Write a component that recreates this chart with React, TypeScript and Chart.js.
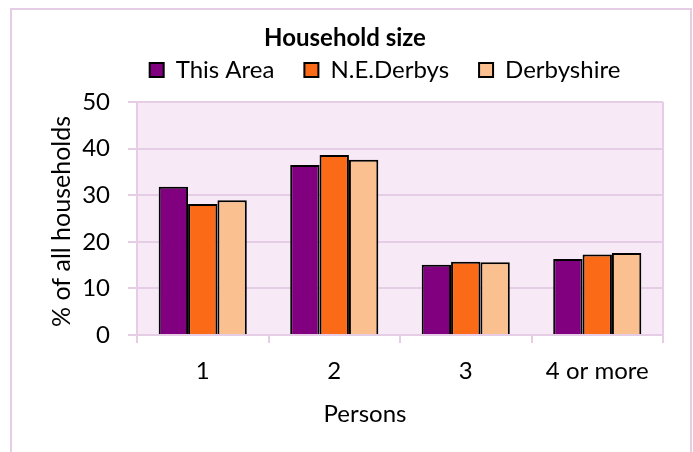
import { useEffect, useRef } from "react";
import { Chart, registerables } from "chart.js";

Chart.register(...registerables);

const categories = ["1", "2", "3", "4 or more"];
const thisArea = [31.8, 36.5, 15.1, 16.3];
const neDerbys = [28.1, 38.6, 15.7, 17.3];
const derbyshire = [28.9, 37.6, 15.6, 17.6];
const seriesNames = ["This Area", "N.E.Derbys", "Derbyshire"];
const seriesColors = ["#800080", "#fb6a17", "#fac090"];
const chartTitle = "Household size";
const xTitle = "Persons";
const yTitle = "% of all households";

const FONT = "Lato, 'Open Sans', sans-serif";
const PINK = "#e6cde6";
const PLOT_BG = "#f7eaf6";
const LEGEND_HEIGHT = 74;
const LEGEND_SHIFT = 40;
const X_TITLE_SHIFT = -35;
const Y_TITLE_SHIFT = 3;

const decorPlugin = {
  id: "decor",
  beforeInit(chart: any) {
    const legend = chart.legend;
    if (legend) {
      const orig = legend.fit;
      legend.fit = function () {
        orig.call(this);
        this.height = LEGEND_HEIGHT;
        if (this.lineWidths && this.lineWidths.length) {
          this.lineWidths[0] -= LEGEND_SHIFT * 2;
        }
      };
    }
  },
  afterLayout(chart: any) {
    const patch = (scale: any, dx: number, dy: number) => {
      if (!scale || scale._titlePatched) return;
      const orig = scale.drawTitle;
      scale.drawTitle = function () {
        this.ctx.save();
        this.ctx.translate(dx, dy);
        orig.call(this);
        this.ctx.restore();
      };
      scale._titlePatched = true;
    };
    patch(chart.scales.x, X_TITLE_SHIFT, 0);
    patch(chart.scales.y, 0, Y_TITLE_SHIFT);
  },
  beforeDraw(chart: any) {
    const { ctx, chartArea: a } = chart;
    ctx.save();
    ctx.fillStyle = "#ffffff";
    ctx.fillRect(0, 0, chart.width, chart.height);
    ctx.strokeStyle = PINK;
    ctx.lineWidth = 2;
    ctx.strokeRect(11, 9, 680, 470);
    ctx.fillStyle = PLOT_BG;
    ctx.fillRect(a.left, a.top, a.right - a.left, a.bottom - a.top);
    ctx.restore();
  },
  beforeDatasetsDraw(chart: any) {
    const { ctx, chartArea: a } = chart;
    ctx.save();
    ctx.strokeStyle = PINK;
    ctx.lineWidth = 2;
    ctx.beginPath();
    ctx.moveTo(a.right, a.top);
    ctx.lineTo(a.right, a.bottom);
    ctx.stroke();
    ctx.restore();
  },
};

export default function App() {
  const ref = useRef<HTMLCanvasElement | null>(null);

  useEffect(() => {
    if (!ref.current) return;
    const values = [thisArea, neDerbys, derbyshire];
    const chart = new Chart(ref.current, {
      type: "bar",
      data: {
        labels: categories,
        datasets: values.map((v, i) => ({
          label: seriesNames[i],
          data: v,
          backgroundColor: seriesColors[i],
          borderColor: "#000000",
          borderWidth: 2,
          categoryPercentage: 0.67,
          barPercentage: 1.0,
        })),
      },
      options: {
        responsive: false,
        animation: false,
        layout: { padding: { left: 27, right: 30, top: 0, bottom: 0 } },
        plugins: {
          title: {
            display: true,
            text: chartTitle,
            color: "#000",
            font: { family: FONT, size: 24, weight: "bold" },
            padding: { top: 23.6, bottom: -24.4 },
          },
          legend: {
            labels: {
              color: "#000",
              font: { family: FONT, size: 24 },
              boxWidth: 14,
              boxHeight: 14,
              padding: 30,
            },
          },
          tooltip: { enabled: false },
        },
        scales: {
          x: {
            grid: { drawOnChartArea: false, tickLength: 8, color: PINK, lineWidth: 2 },
            border: { color: PINK, width: 2 },
            ticks: { color: "#000", font: { family: FONT, size: 24 }, padding: 14 },
            title: {
              display: true,
              text: xTitle,
              color: "#000",
              font: { family: FONT, size: 24 },
              padding: { top: 0, bottom: 23.6 },
            },
            afterFit(scale: any) {
              scale.height = 117;
            },
          },
          y: {
            min: 0,
            max: 50,
            ticks: { stepSize: 10, color: "#000", font: { family: FONT, size: 24 }, padding: 18 },
            grid: { color: PINK, lineWidth: 2, tickLength: 9 },
            border: { color: PINK, width: 2 },
            title: {
              display: true,
              text: yTitle,
              color: "#000",
              font: { family: FONT, size: 25 },
              padding: { top: 20, bottom: 0 },
            },
            afterFit(scale: any) {
              scale.width = 110;
            },
          },
        },
      },
      plugins: [decorPlugin],
    });
    return () => chart.destroy();
  }, []);

  return (
    <div style={{ position: "absolute", left: 0, top: 0, width: 693, height: 452 }}>
      <canvas ref={ref} width={693} height={452} style={{ display: "block" }} />
    </div>
  );
}
